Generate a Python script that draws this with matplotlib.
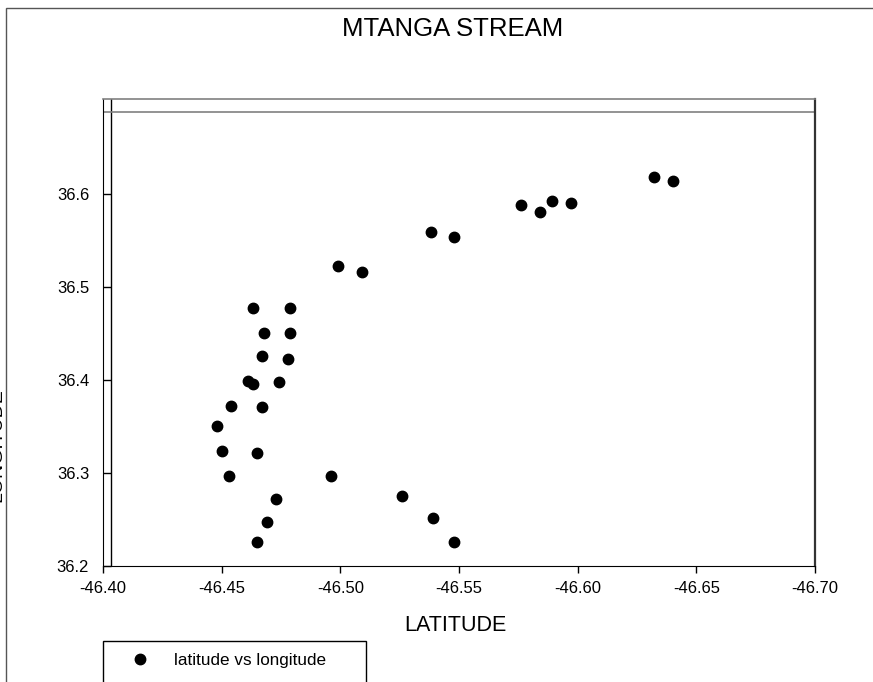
import matplotlib
matplotlib.use("Agg")
import matplotlib.pyplot as plt
from matplotlib.patches import Rectangle
from matplotlib.lines import Line2D

plt.rcParams["font.family"] = ["Liberation Sans", "DejaVu Sans"]

W, H = 873, 682

# readings
latitude = [
    -46.632, -46.640, -46.576, -46.584, -46.589, -46.597, -46.538, -46.548,
    -46.499, -46.509, -46.463, -46.479, -46.468, -46.479, -46.467, -46.478,
    -46.461, -46.463, -46.474, -46.454, -46.467, -46.448, -46.450, -46.465,
    -46.453, -46.496, -46.473, -46.526, -46.469, -46.539, -46.465, -46.548,
]
longitude = [
    36.618, 36.614, 36.588, 36.581, 36.592, 36.590, 36.559, 36.554,
    36.523, 36.516, 36.477, 36.477, 36.451, 36.451, 36.426, 36.422,
    36.399, 36.396, 36.398, 36.372, 36.371, 36.351, 36.324, 36.322,
    36.297, 36.297, 36.272, 36.275, 36.247, 36.252, 36.226, 36.226,
]
x_ticks = [-46.40, -46.45, -46.50, -46.55, -46.60, -46.65, -46.70]
y_ticks = [36.2, 36.3, 36.4, 36.5, 36.6]

fig = plt.figure(figsize=(W / 100, H / 100), dpi=100)

# outer frame
fig.patches.append(Rectangle((5.5 / W, -0.1), 1.2, 1 - 8 / H + 0.1,
                             transform=fig.transFigure, fill=False,
                             edgecolor="#555555", lw=1.0))

ax = fig.add_axes([103 / W, 1 - 566 / H, 712 / W, 467 / H])
ax.plot(latitude, longitude, "o", color="black", ms=7.5, ls="none",
        label="latitude vs longitude")

ax.set_xlim(-46.40, -46.70)
ax.set_ylim(36.2, 36.702)
ax.axvline(-46.4034, color="black", lw=1.0)
ax.axhline(36.688, color="#808080", lw=1.2)

ax.set_xticks(x_ticks)
ax.set_xticklabels([f"{v:.2f}" for v in x_ticks])
ax.set_yticks(y_ticks)
ax.set_yticklabels([f"{v:.1f}" for v in y_ticks])
ax.tick_params(axis="x", direction="out", length=5, width=1, pad=6,
               labelsize=12)
ax.tick_params(axis="y", direction="in", length=5.8, width=1, pad=10,
               labelsize=12)

ax.spines["top"].set_color("#808080")
ax.spines["top"].set_linewidth(1.2)
ax.spines["right"].set_color("#333333")
ax.spines["right"].set_linewidth(1.6)

ax.set_xlabel("LATITUDE", fontsize=15.5)
ax.xaxis.set_label_coords((455 - 103) / 712, -(631 - 566) / 467)
ax.xaxis.label.set_va("baseline")

fig.text(452.5 / W, 1 - 36 / H, "MTANGA STREAM", ha="center",
         va="baseline", fontsize=18.5)

# y label, mostly cut off at the left edge
fig.text(5 / W, 1 - 445 / H, "LONGITUDE", rotation=90, ha="right",
         va="center", fontsize=14)

# legend box running off the bottom
fig.patches.append(Rectangle((103 / W, -0.1), 263 / W, 1 - 641 / H + 0.1,
                             transform=fig.transFigure, fill=False,
                             edgecolor="black", lw=1.0))
handle = Line2D([], [], marker="o", color="black", ls="none", ms=7.5)
fig.legend([handle], ["latitude vs longitude"], loc="center left",
           bbox_to_anchor=(123 / W, 1 - 660 / H), frameon=False,
           fontsize=12.3, handletextpad=1.0, borderpad=0, borderaxespad=0)

fig.savefig("out.png", dpi=100)
